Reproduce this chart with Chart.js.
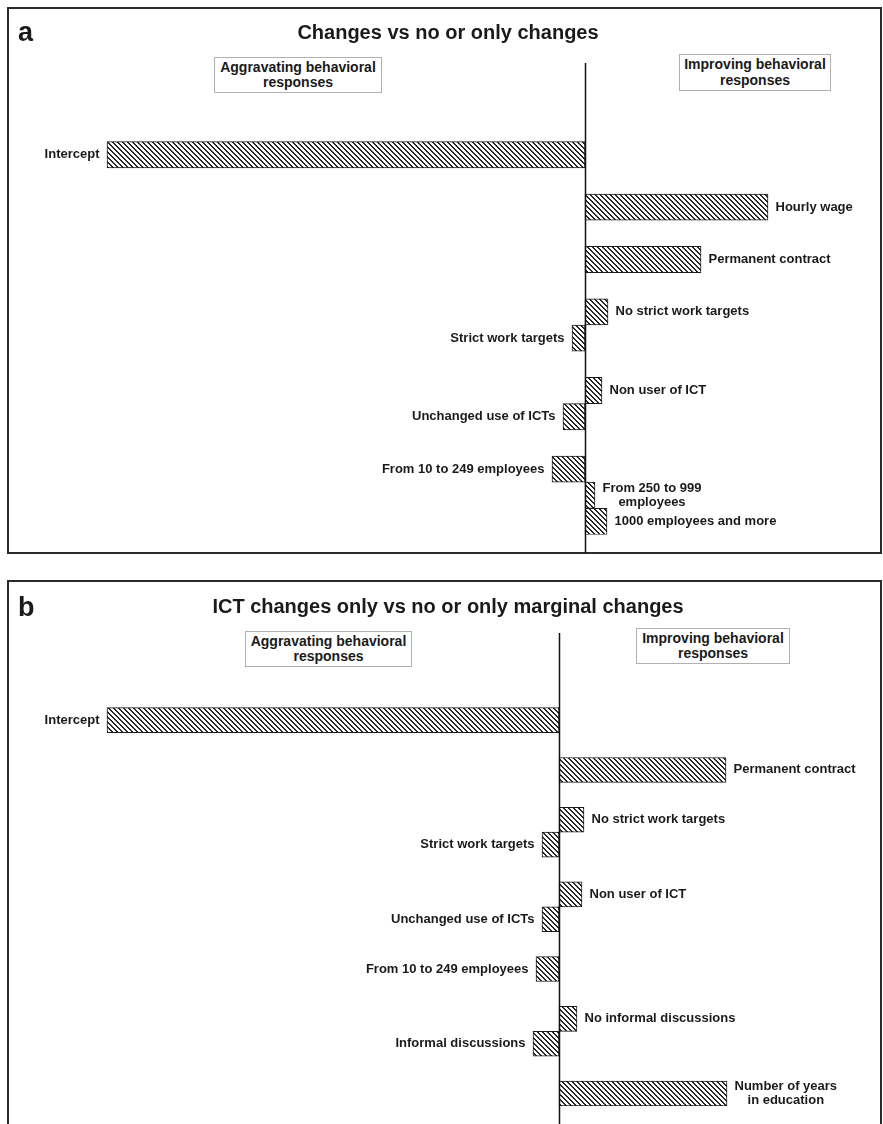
<!DOCTYPE html>
<html>
<head>
<meta charset="utf-8">
<script src="https://cdn.jsdelivr.net/npm/chart.js@4.4.1/dist/chart.umd.min.js"></script>
<style>
    body { margin: 0; background: #fff; font-family: "Liberation Sans", Arial, sans-serif; color: #1a1a1a; }
    #page { position: relative; width: 883px; height: 1124px; overflow: hidden; }
    .frame { position: absolute; box-sizing: border-box; border: 2px solid #2a2a2a; }
    .wrap { position: absolute; left: 0; width: 883px; }
    .letter { position: absolute; font-weight: bold; font-size: 27px; line-height: 27px; }
    .title { position: absolute; left: 448px; transform: translateX(-50%); white-space: nowrap;
             font-weight: bold; font-size: 20px; line-height: 20px; }
    .note { position: absolute; box-sizing: border-box; border: 1px solid #b0b0b0; background: #fff;
            display: flex; align-items: center; justify-content: center; text-align: center;
            font-weight: bold; font-size: 14px; line-height: 15.5px; }
</style>
</head>
<body>
<div id="page">
    <div class="frame" style="left:7px; top:7px; width:875px; height:547px;"></div>
    <div class="frame" style="left:7px; top:580px; width:875px; height:600px;"></div>

    <div class="wrap" style="top:0; height:560px;"><canvas id="chartA"></canvas></div>
    <div class="wrap" style="top:570px; height:554px;"><canvas id="chartB"></canvas></div>

    <div class="letter" style="left:18px; top:19px;">a</div>
    <div class="title" style="top:22px;">Changes vs no or only changes</div>
    <div class="note" style="left:214px; top:57px; width:168px; height:36px;">Aggravating behavioral<br>responses</div>
    <div class="note" style="left:679px; top:54px; width:152px; height:37px;">Improving behavioral<br>responses</div>

    <div class="letter" style="left:18px; top:594px;">b</div>
    <div class="title" style="top:596px;">ICT changes only vs no or only marginal changes</div>
    <div class="note" style="left:245px; top:631px; width:167px; height:36px;">Aggravating behavioral<br>responses</div>
    <div class="note" style="left:636px; top:628px; width:154px; height:36px;">Improving behavioral<br>responses</div>
</div>

<script>
// panel a: changes vs no or only changes ('' = empty row)
const labelsA = ['', '', '', 'Intercept', '', 'Hourly wage', '', 'Permanent contract', '',
    'No strict work targets', 'Strict work targets', '', 'Non user of ICT', 'Unchanged use of ICTs', '',
    'From 10 to 249 employees', ['From 250 to 999', 'employees'], '1000 employees and more'];
const valuesA = [null, null, null, -2.39, null, 0.915, null, 0.58, null,
    0.115, -0.065, null, 0.085, -0.11, null,
    -0.165, 0.05, 0.11];

// panel b: ICT changes only vs no or only marginal changes
const labelsB = ['', '', '', 'Intercept', '', 'Permanent contract', '',
    'No strict work targets', 'Strict work targets', '', 'Non user of ICT', 'Unchanged use of ICTs', '',
    'From 10 to 249 employees', '', 'No informal discussions', 'Informal discussions', '',
    ['Number of years', 'in education']];
const valuesB = [null, null, null, -2.26, null, 0.835, null,
    0.125, -0.085, null, 0.115, -0.085, null,
    -0.115, null, 0.09, -0.13, null,
    0.84];

function makeHatch(ctx) {
    const tile = document.createElement('canvas');
    tile.width = 5;
    tile.height = 5;
    const g = tile.getContext('2d');
    const img = g.createImageData(5, 5);
    for (let y = 0; y < 5; y++) {
        for (let x = 0; x < 5; x++) {
            const k = ((x - y) % 5 + 5) % 5;
            const v = k < 2 ? 40 : 255;
            const i = (y * 5 + x) * 4;
            img.data[i] = v; img.data[i + 1] = v; img.data[i + 2] = v; img.data[i + 3] = 255;
        }
    }
    g.putImageData(img, 0, 0);
    return ctx.createPattern(tile, 'repeat');
}

// vertical line at zero, running down to the frame
const zeroLine = {
    id: 'zeroLine',
    afterDatasetsDraw(chart, args, opts) {
        const ctx = chart.ctx;
        const x = Math.round(chart.scales.x.getPixelForValue(0)) + 0.5;
        ctx.save();
        ctx.strokeStyle = '#111';
        ctx.lineWidth = 1.5;
        ctx.beginPath();
        ctx.moveTo(x, chart.chartArea.top);
        ctx.lineTo(x, opts.bottom);
        ctx.stroke();
        ctx.restore();
    }
};

// category names next to the bar ends
const barNames = {
    id: 'barNames',
    afterDatasetsDraw(chart) {
        const ctx = chart.ctx;
        const meta = chart.getDatasetMeta(0);
        const data = chart.data.datasets[0].data;
        ctx.save();
        ctx.font = 'bold 13px "Liberation Sans", Arial, sans-serif';
        ctx.fillStyle = '#1a1a1a';
        ctx.textBaseline = 'middle';
        ctx.textAlign = 'center';
        meta.data.forEach((bar, i) => {
            const v = data[i];
            if (v === null) return;
            const label = chart.data.labels[i];
            const lines = Array.isArray(label) ? label : [label];
            const w = Math.max(...lines.map(l => ctx.measureText(l).width));
            const cx = v >= 0 ? bar.x + 7.5 + w / 2 : bar.x - 7.5 - w / 2;
            const lh = 14.5;
            lines.forEach((l, j) => {
                ctx.fillText(l, cx, bar.y + (j - (lines.length - 1) / 2) * lh);
            });
        });
        ctx.restore();
    }
};

function drawPanel(id, labels, values, xMin, xMax, lineBottom) {
    const ctx = document.getElementById(id).getContext('2d');
    new Chart(ctx, {
        type: 'bar',
        data: {
            labels: labels,
            datasets: [{
                data: values,
                backgroundColor: makeHatch(ctx),
                borderColor: '#1a1a1a',
                borderWidth: 1,
                borderSkipped: false,
                barPercentage: 1,
                categoryPercentage: 1
            }]
        },
        options: {
            indexAxis: 'y',
            responsive: true,
            maintainAspectRatio: false,
            animation: false,
            layout: { padding: { left: 85, right: 18, top: 63, bottom: lineBottom.padBottom } },
            scales: {
                x: { min: xMin, max: xMax, display: false },
                y: { display: false }
            },
            plugins: {
                legend: { display: false },
                tooltip: { enabled: false },
                zeroLine: { bottom: lineBottom.line }
            }
        },
        plugins: [zeroLine, barNames]
    });
}

drawPanel('chartA', labelsA, valuesA, -2.5, 1.4, { padBottom: 25.4, line: 553 });
drawPanel('chartB', labelsB, valuesB, -2.37, 1.53, { padBottom: 18, line: 560 });
</script>
</body>
</html>
